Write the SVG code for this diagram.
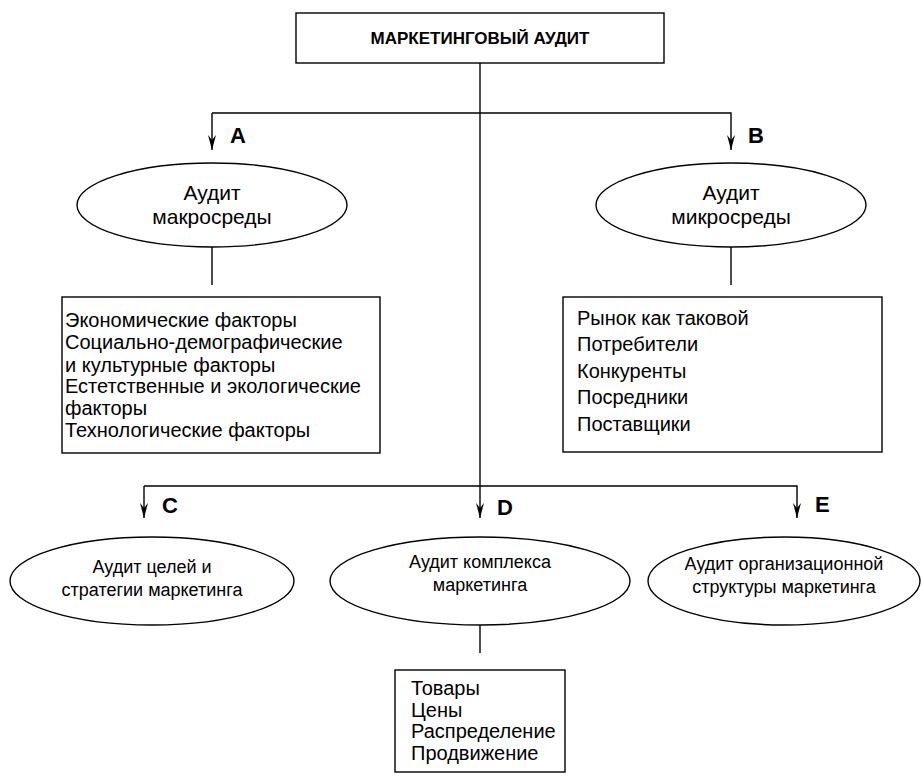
<svg xmlns="http://www.w3.org/2000/svg" width="922" height="784" viewBox="0 0 922 784">
<style>
.shape{fill:#fff;stroke:#000;stroke-width:1.4}
.ln{fill:none;stroke:#000;stroke-width:1.4}
.t{font-family:"Liberation Sans",Arial,sans-serif;fill:#000}
.title{font-size:17px;font-weight:bold}
.lbl{font-size:22px;font-weight:bold}
.big{font-size:21px}
.mid{font-size:18px}
.txt{font-size:20px}
</style>
<defs>
<marker id="arr" viewBox="-16 -5 17 10" refX="0" refY="0" markerWidth="17" markerHeight="10" markerUnits="userSpaceOnUse" orient="auto">
<path d="M0,0 L-15,-4 L-10,0 L-15,4 Z" fill="#000"/>
</marker>
</defs>
<g id="connectors">
<line class="ln" x1="480" y1="63" x2="480" y2="518" marker-end="url(#arr)"/>
<polyline class="ln" points="212,113 212,150" marker-end="url(#arr)"/>
<polyline class="ln" points="212,113 731,113 731,150" marker-end="url(#arr)"/>
<polyline class="ln" points="144,486 144,518" marker-end="url(#arr)"/>
<polyline class="ln" points="144,486 797,486 797,518" marker-end="url(#arr)"/>
<line class="ln" x1="212" y1="247" x2="212" y2="285"/>
<line class="ln" x1="731" y1="247" x2="731" y2="285"/>
<line class="ln" x1="480" y1="625" x2="480" y2="653"/>
</g>
<g id="labels">
<text class="t lbl" x="230" y="143">A</text>
<text class="t lbl" x="748" y="143">B</text>
<text class="t lbl" x="162" y="513">C</text>
<text class="t lbl" x="497" y="515">D</text>
<text class="t lbl" x="815" y="512">E</text>
</g>
<g id="root">
<rect class="shape" x="296" y="13" width="368" height="50"/>
<text class="t title" x="480" y="44" text-anchor="middle">МАРКЕТИНГОВЫЙ АУДИТ</text>
</g>
<g id="macro">
<ellipse class="shape" cx="212" cy="205" rx="135" ry="42"/>
<text class="t big" x="212" y="200" text-anchor="middle">Аудит</text>
<text class="t big" x="212" y="224" text-anchor="middle">макросреды</text>
</g>
<g id="macro-list">
<rect class="shape" x="62" y="297" width="318" height="156"/>
<text class="t txt" x="65" y="327">Экономические факторы</text>
<text class="t txt" x="65" y="349">Социально-демографические</text>
<text class="t txt" x="65" y="372">и культурные факторы</text>
<text class="t txt" x="65" y="393">Естетственные и экологические</text>
<text class="t txt" x="65" y="415">факторы</text>
<text class="t txt" x="65" y="437">Технологические факторы</text>
</g>
<g id="micro">
<ellipse class="shape" cx="731" cy="205" rx="135" ry="42"/>
<text class="t big" x="731" y="200" text-anchor="middle">Аудит</text>
<text class="t big" x="731" y="224" text-anchor="middle">микросреды</text>
</g>
<g id="micro-list">
<rect class="shape" x="563" y="297" width="319" height="155"/>
<text class="t txt" x="577" y="325">Рынок как таковой</text>
<text class="t txt" x="577" y="351">Потребители</text>
<text class="t txt" x="577" y="378">Конкуренты</text>
<text class="t txt" x="577" y="404">Посредники</text>
<text class="t txt" x="577" y="431">Поставщики</text>
</g>
<g id="goals">
<ellipse class="shape" cx="152" cy="581" rx="142" ry="44"/>
<text class="t mid" x="152" y="573" text-anchor="middle">Аудит целей и</text>
<text class="t mid" x="152" y="596" text-anchor="middle">стратегии маркетинга</text>
</g>
<g id="mix">
<ellipse class="shape" cx="480" cy="581" rx="150" ry="44"/>
<text class="t mid" x="480" y="568" text-anchor="middle">Аудит комплекса</text>
<text class="t mid" x="480" y="591" text-anchor="middle">маркетинга</text>
</g>
<g id="org">
<ellipse class="shape" cx="784" cy="581" rx="136" ry="44"/>
<text class="t mid" x="784" y="570" text-anchor="middle">Аудит организационной</text>
<text class="t mid" x="784" y="593" text-anchor="middle">структуры маркетинга</text>
</g>
<g id="mix-list">
<rect class="shape" x="395" y="670" width="170" height="102"/>
<text class="t txt" x="411" y="695">Товары</text>
<text class="t txt" x="411" y="717">Цены</text>
<text class="t txt" x="411" y="738">Распределение</text>
<text class="t txt" x="411" y="760">Продвижение</text>
</g>
</svg>
